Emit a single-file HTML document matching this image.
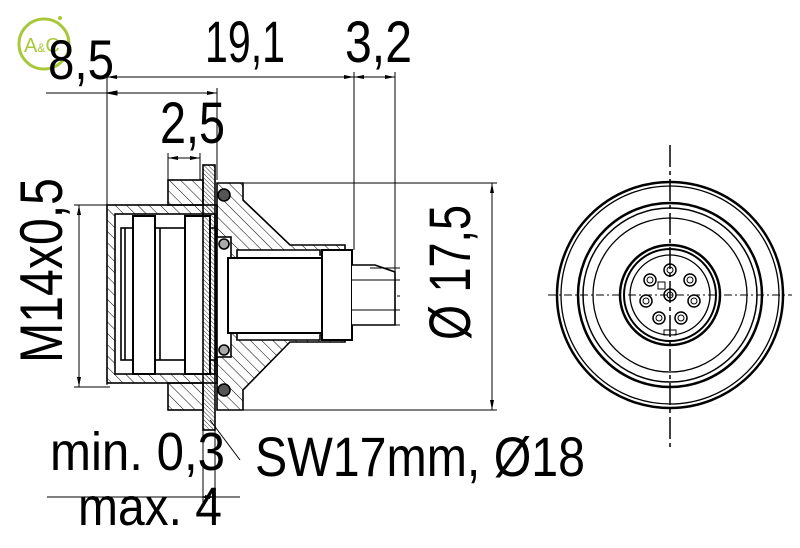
<!DOCTYPE html>
<html><head><style>html,body{margin:0;padding:0;background:#fff}svg{display:block}</style></head>
<body>
<svg width="800" height="548" viewBox="0 0 800 548" xmlns="http://www.w3.org/2000/svg" font-family="Liberation Sans, sans-serif">
<defs>
<pattern id="h" width="8" height="8" patternUnits="userSpaceOnUse" patternTransform="rotate(-45)"><line x1="0" y1="0" x2="0" y2="8" stroke="#000" stroke-width="1"/></pattern>
<pattern id="h2" width="3" height="3" patternUnits="userSpaceOnUse" patternTransform="rotate(-45)"><line x1="0" y1="0" x2="0" y2="3" stroke="#000" stroke-width="0.8"/></pattern>
<marker id="a" markerWidth="10" markerHeight="6" refX="10" refY="3" orient="auto-start-reverse" markerUnits="userSpaceOnUse"><path d="M0,1 L10,3 L0,5" fill="#000"/></marker>
</defs>
<g stroke="#000" fill="none" stroke-width="1">
<line x1="107" y1="77" x2="354" y2="77" marker-start="url(#a)" marker-end="url(#a)"/>
<line x1="354" y1="77" x2="395" y2="77" marker-start="url(#a)" marker-end="url(#a)"/>
<line x1="46" y1="93" x2="217" y2="93" marker-end="url(#a)"/>
<path d="M107 93 l10 -2 v4z" fill="#000"/>
<line x1="107" y1="72" x2="107" y2="385"/>
<line x1="217" y1="88" x2="217" y2="180"/>
<line x1="354" y1="72" x2="354" y2="250"/>
<line x1="395" y1="72" x2="395" y2="320"/>
<line x1="168" y1="158" x2="200" y2="158" marker-start="url(#a)" marker-end="url(#a)"/>
<line x1="168" y1="153" x2="168" y2="180"/>
<line x1="200" y1="153" x2="200" y2="180"/>
<line x1="79" y1="205" x2="79" y2="387" marker-start="url(#a)" marker-end="url(#a)"/>
<line x1="74" y1="205" x2="110" y2="205"/>
<line x1="74" y1="387" x2="110" y2="387"/>
<line x1="492" y1="183" x2="492" y2="410" marker-start="url(#a)" marker-end="url(#a)"/>
<line x1="243" y1="183" x2="497" y2="183"/>
<line x1="243" y1="410" x2="497" y2="410"/>
<line x1="125" y1="296" x2="400" y2="296" stroke-dasharray="22,4,4,4"/>
<g stroke-width="1.6">
<rect x="107" y="205" width="110" height="178" fill="url(#h)"/>
<rect x="115" y="214" width="100" height="160" fill="#fff"/>
<rect x="121" y="228" width="95" height="132" fill="#fff"/>
<rect x="133" y="216" width="22" height="158" fill="#fff" stroke-width="2"/>
<rect x="185" y="216" width="25" height="158" fill="#fff" stroke-width="2"/>
<line x1="125" y1="228" x2="125" y2="360"/>
<line x1="160" y1="228" x2="160" y2="360"/>
<rect x="168" y="180" width="35" height="25" fill="url(#h)"/>
<rect x="168" y="383" width="35" height="27" fill="url(#h)"/>
<rect x="203" y="165" width="12" height="265" fill="url(#h2)"/>
<path d="M217 183 H243 V200 L290 245 H345 V255 H320 V250 H237 V340 H320 V335 H345 V342 H290 L243 390 V410 H217 Z" fill="url(#h)"/>
<circle cx="224" cy="195" r="6" fill="#555"/>
<circle cx="224" cy="390" r="6" fill="#555"/>
<rect x="217" y="237" width="14" height="120" fill="#fff"/>
<circle cx="224" cy="244" r="5" fill="#aaa"/>
<circle cx="224" cy="350" r="5" fill="#aaa"/>
<rect x="228" y="258" width="95" height="75" fill="#fff" stroke-width="2"/>
<rect x="322" y="250" width="30" height="90" fill="#fff" stroke-width="2"/>
<path d="M352 265 H375 L395 272 V325 H352" fill="#fff"/>
</g>
<line x1="352" y1="280" x2="400" y2="280"/><line x1="352" y1="310" x2="400" y2="310"/>
<line x1="370" y1="268" x2="400" y2="268"/><line x1="370" y1="325" x2="400" y2="325"/>
<line x1="210" y1="420" x2="240" y2="460"/>
<line x1="47" y1="497" x2="240" y2="497"/>
<line x1="200" y1="497" x2="215" y2="497" marker-start="url(#a)" marker-end="url(#a)"/>
<line x1="215" y1="430" x2="215" y2="505"/>
<line x1="203" y1="430" x2="203" y2="505"/>
<line x1="670" y1="145" x2="670" y2="448" stroke-dasharray="22,4,4,4" stroke-width="1.5"/>
<line x1="548" y1="295" x2="792" y2="295" stroke-dasharray="8,3,2,3"/>
<circle cx="670" cy="295" r="113" stroke-width="2.5"/>
<circle cx="670" cy="295" r="109" stroke-width="1.3"/>
<circle cx="670" cy="295" r="92" stroke-width="2.5"/>
<circle cx="670" cy="295" r="87" stroke-width="1.5"/>
<circle cx="670" cy="295" r="77" stroke-width="1.3"/>
<circle cx="670" cy="295" r="50" stroke-width="2.5"/>
<circle cx="670" cy="295" r="46" stroke-width="2"/>
<circle cx="670" cy="295" r="40" stroke-width="1.3"/>
<g stroke-width="1.5">
<circle cx="670" cy="295" r="6"/><circle cx="670" cy="270" r="6"/>
<circle cx="650" cy="280" r="6"/><circle cx="690" cy="280" r="6"/>
<circle cx="646" cy="301" r="6"/><circle cx="694" cy="301" r="6"/>
<circle cx="659" cy="318" r="6"/><circle cx="681" cy="318" r="6"/>
</g>
<g stroke-width="1">
<circle cx="670" cy="295" r="3"/><circle cx="670" cy="270" r="3"/>
<circle cx="650" cy="280" r="3"/><circle cx="690" cy="280" r="3"/>
<circle cx="646" cy="301" r="3"/><circle cx="694" cy="301" r="3"/>
<circle cx="659" cy="318" r="3"/><circle cx="681" cy="318" r="3"/>
</g>
<rect x="658" y="282" width="7" height="7"/>
<rect x="664" y="330" width="12" height="5"/>
<circle cx="44" cy="44" r="25" stroke="#a8c83a" stroke-width="3"/>
<circle cx="60" cy="18" r="2" fill="#a8c83a" stroke="none"/>
</g>
<text x="24" y="52" font-size="20" fill="#a8c83a">A<tspan font-size="12">&amp;</tspan>C</text>
<g fill="#000">
<text x="48" y="79" font-size="56" textLength="66" lengthAdjust="spacingAndGlyphs">8,5</text>
<text x="205" y="62" font-size="58" textLength="80" lengthAdjust="spacingAndGlyphs">19,1</text>
<text x="345" y="62" font-size="58" textLength="67" lengthAdjust="spacingAndGlyphs">3,2</text>
<text x="160" y="143" font-size="58" textLength="65" lengthAdjust="spacingAndGlyphs">2,5</text>
<text transform="translate(62,363) rotate(-90)" font-size="60" textLength="185" lengthAdjust="spacingAndGlyphs">M14x0,5</text>
<text transform="translate(470,340) rotate(-90)" font-size="58" textLength="135" lengthAdjust="spacingAndGlyphs">Ø 17,5</text>
<text x="50" y="470" font-size="54" textLength="175" lengthAdjust="spacingAndGlyphs">min. 0,3</text>
<text x="78" y="525" font-size="54" textLength="144" lengthAdjust="spacingAndGlyphs">max. 4</text>
<text x="255" y="476" font-size="56" textLength="330" lengthAdjust="spacingAndGlyphs">SW17mm, Ø18</text>
</g>
</svg>
</body></html>
